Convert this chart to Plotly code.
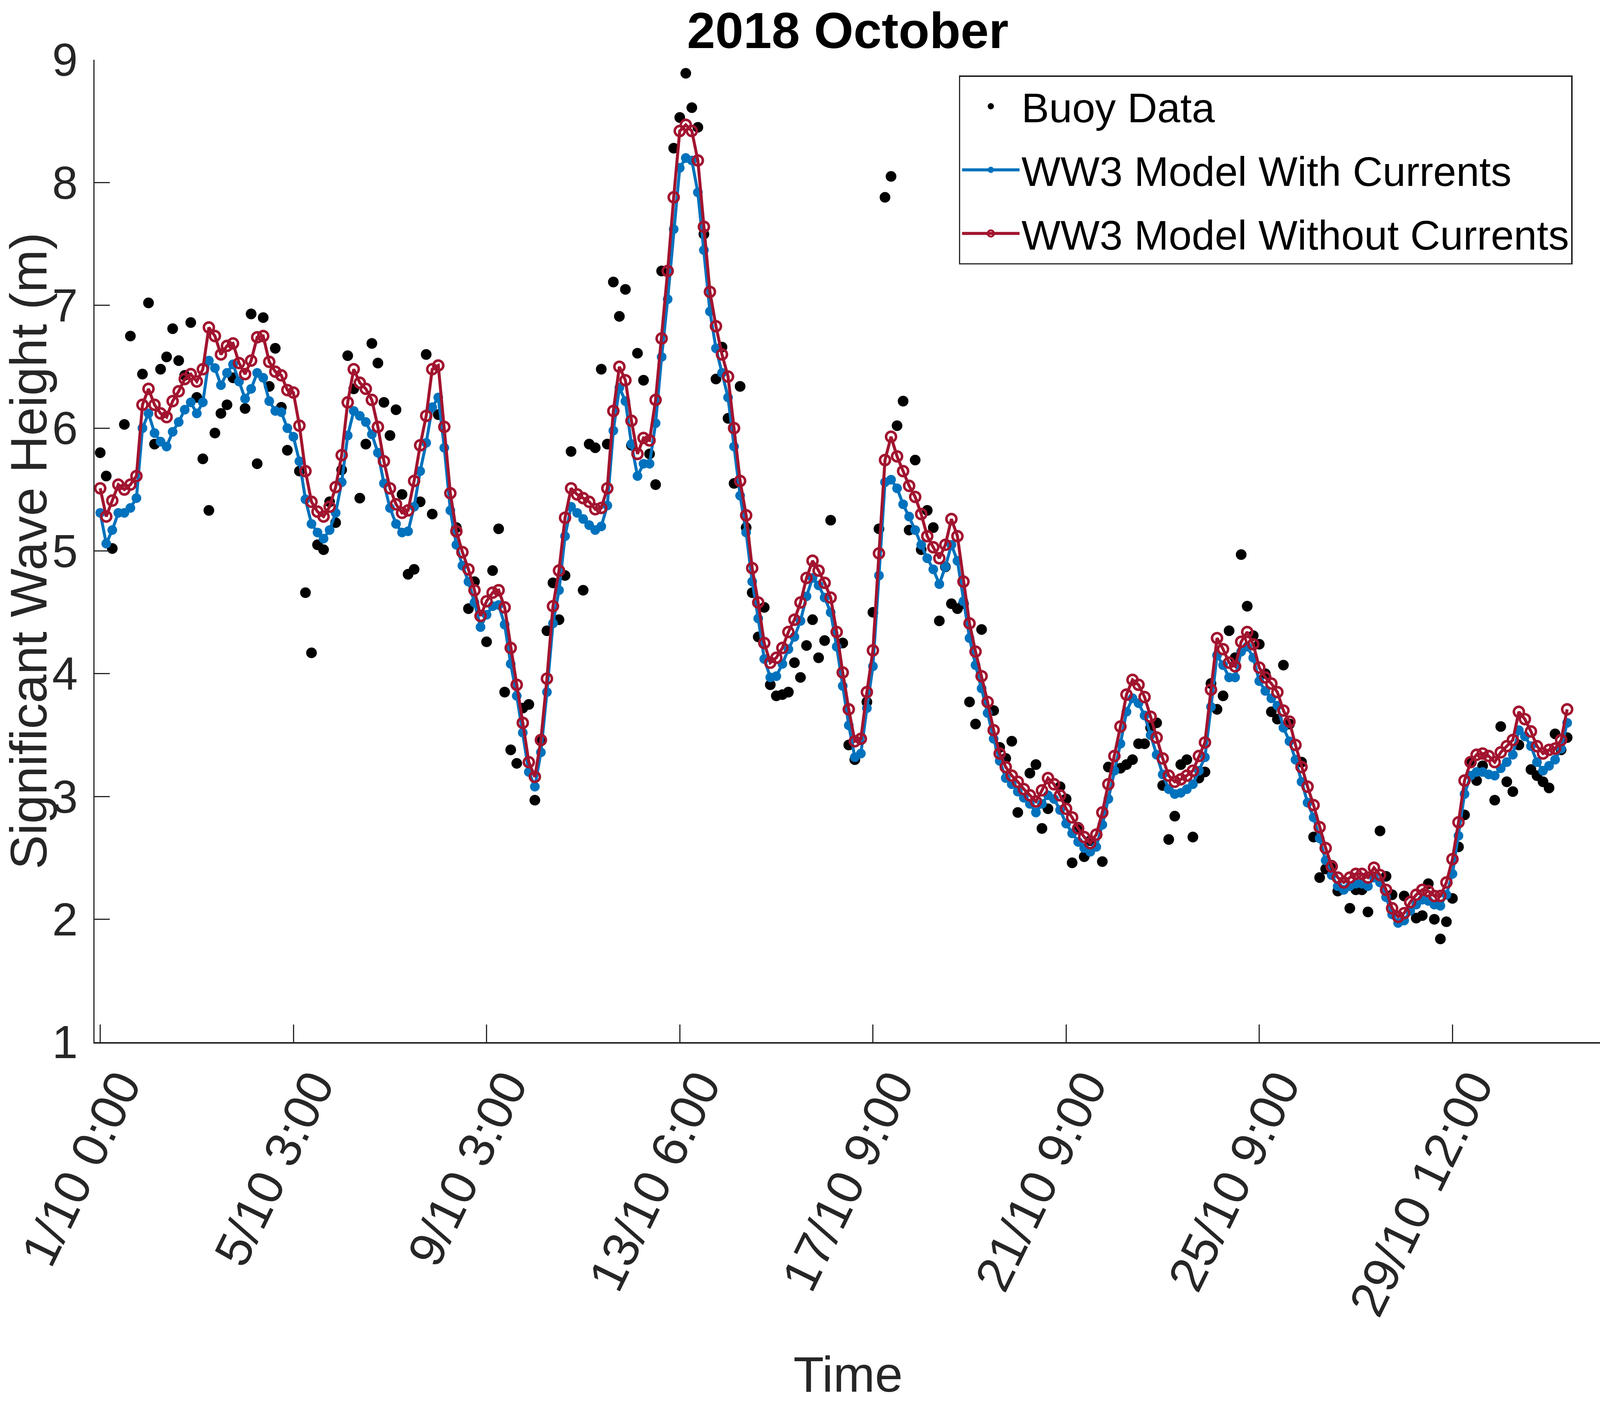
"""Significant wave height, October 2018: buoy vs WW3 model with/without currents"""
import plotly.graph_objects as go

# model output every 3 h, indexed by sample number
hs_with_currents = [
    5.31, 5.06, 5.17, 5.31, 5.31, 5.35, 5.43, 6.00, 6.12, 5.96, 5.89, 5.85, 5.97, 6.05, 6.15, 6.21,
    6.12, 6.21, 6.55, 6.49, 6.35, 6.45, 6.52, 6.38, 6.24, 6.32, 6.45, 6.41, 6.22, 6.14, 6.13, 6.00,
    5.93, 5.73, 5.42, 5.22, 5.15, 5.10, 5.17, 5.31, 5.56, 5.94, 6.14, 6.10, 6.05, 5.95, 5.80, 5.55,
    5.35, 5.22, 5.15, 5.16, 5.36, 5.65, 5.88, 6.17, 6.25, 5.84, 5.33, 5.05, 4.88, 4.75, 4.58, 4.38,
    4.48, 4.55, 4.56, 4.40, 4.08, 3.82, 3.52, 3.20, 3.08, 3.36, 3.85, 4.41, 4.68, 5.12, 5.36, 5.31,
    5.26, 5.21, 5.17, 5.20, 5.37, 5.98, 6.33, 6.22, 5.87, 5.61, 5.71, 5.71, 6.04, 6.58, 7.05, 7.62,
    8.12, 8.20, 8.18, 7.92, 7.45, 6.95, 6.65, 6.45, 6.25, 5.85, 5.45, 5.15, 4.75, 4.45, 4.12, 3.97,
    3.98, 4.08, 4.20, 4.30, 4.43, 4.63, 4.78, 4.72, 4.62, 4.50, 4.22, 3.90, 3.58, 3.32, 3.35, 3.72,
    4.06, 4.80, 5.56, 5.58, 5.51, 5.38, 5.28, 5.17, 5.05, 4.94, 4.85, 4.73, 4.87, 5.05, 4.92, 4.59,
    4.29, 4.07, 3.88, 3.68, 3.47, 3.29, 3.15, 3.10, 3.04, 2.99, 2.94, 2.87, 2.94, 3.01, 2.98, 2.89,
    2.78, 2.70, 2.63, 2.58, 2.55, 2.59, 2.77, 2.98, 3.21, 3.43, 3.69, 3.80, 3.76, 3.66, 3.50, 3.34,
    3.18, 3.06, 3.02, 3.03, 3.06, 3.10, 3.21, 3.32, 3.73, 4.15, 4.07, 3.97, 3.97, 4.18, 4.22, 4.13,
    3.94, 3.86, 3.80, 3.74, 3.56, 3.45, 3.30, 3.12, 2.95, 2.83, 2.66, 2.48, 2.36, 2.27, 2.24, 2.27,
    2.29, 2.29, 2.27, 2.34, 2.30, 2.18, 2.04, 1.97, 1.99, 2.07, 2.12, 2.16, 2.15, 2.12, 2.11, 2.20,
    2.37, 2.68, 3.02, 3.17, 3.20, 3.20, 3.18, 3.17, 3.23, 3.28, 3.34, 3.54, 3.49, 3.41, 3.28, 3.21,
    3.25, 3.30, 3.39, 3.60,
]

hs_without_currents = [
    5.51, 5.28, 5.41, 5.54, 5.50, 5.54, 5.61, 6.19, 6.32, 6.19, 6.12, 6.09, 6.22, 6.30, 6.40, 6.44,
    6.38, 6.48, 6.82, 6.75, 6.60, 6.67, 6.69, 6.53, 6.44, 6.55, 6.74, 6.75, 6.54, 6.46, 6.43, 6.31,
    6.29, 6.02, 5.65, 5.40, 5.32, 5.28, 5.36, 5.52, 5.78, 6.21, 6.48, 6.37, 6.32, 6.23, 6.01, 5.73,
    5.51, 5.38, 5.31, 5.33, 5.57, 5.86, 6.10, 6.48, 6.51, 6.01, 5.47, 5.16, 4.99, 4.85, 4.68, 4.47,
    4.59, 4.66, 4.68, 4.54, 4.21, 3.91, 3.60, 3.28, 3.16, 3.46, 3.96, 4.55, 4.84, 5.27, 5.51, 5.46,
    5.43, 5.40, 5.34, 5.35, 5.51, 6.14, 6.50, 6.39, 6.06, 5.79, 5.92, 5.90, 6.23, 6.73, 7.28, 7.88,
    8.42, 8.47, 8.42, 8.18, 7.64, 7.11, 6.83, 6.60, 6.42, 6.00, 5.57, 5.29, 4.86, 4.58, 4.25, 4.09,
    4.13, 4.21, 4.34, 4.44, 4.58, 4.78, 4.92, 4.84, 4.74, 4.62, 4.34, 4.01, 3.71, 3.45, 3.47, 3.85,
    4.19, 4.98, 5.74, 5.93, 5.77, 5.65, 5.53, 5.44, 5.30, 5.12, 5.03, 4.94, 5.05, 5.26, 5.12, 4.75,
    4.41, 4.18, 3.98, 3.77, 3.54, 3.35, 3.24, 3.17, 3.12, 3.06, 3.01, 2.96, 3.05, 3.15, 3.10, 3.01,
    2.90, 2.83, 2.74, 2.67, 2.62, 2.69, 2.87, 3.10, 3.33, 3.57, 3.83, 3.95, 3.91, 3.81, 3.65, 3.48,
    3.31, 3.17, 3.12, 3.14, 3.17, 3.21, 3.33, 3.44, 3.87, 4.29, 4.20, 4.09, 4.06, 4.26, 4.34, 4.24,
    4.05, 3.97, 3.92, 3.85, 3.70, 3.61, 3.42, 3.24, 3.08, 2.93, 2.75, 2.58, 2.43, 2.34, 2.30, 2.34,
    2.37, 2.37, 2.34, 2.42, 2.36, 2.24, 2.09, 2.02, 2.05, 2.14, 2.20, 2.24, 2.23, 2.19, 2.19, 2.30,
    2.49, 2.79, 3.13, 3.28, 3.34, 3.35, 3.33, 3.28, 3.36, 3.41, 3.46, 3.69, 3.63, 3.53, 3.41, 3.35,
    3.38, 3.39, 3.46, 3.71,
]

# buoy observations on the same sample index (None = no record)
hs_buoy = [
    5.80, 5.61, 5.02, None, 6.03, 6.75, None, 6.44, 7.02, 5.87, 6.48, 6.58, 6.81, 6.55, 6.43, 6.86,
    6.25, 5.75, 5.33, 5.96, 6.12, 6.19, 6.41, None, 6.16, 6.93, 5.71, 6.90, 6.34, 6.65, 6.17, 5.82,
    None, 5.65, 4.66, 4.17, 5.05, 5.01, 5.40, 5.23, 5.66, 6.59, 6.32, 5.43, 5.87, 6.69, 6.53, 6.21,
    5.94, 6.15, 5.46, 4.81, 4.85, 5.40, 6.60, 5.30, 6.11, None, None, 5.19, None, 4.53, 4.75, None,
    4.26, 4.84, 5.18, 3.85, 3.38, 3.27, 3.72, 3.75, 2.97, 3.46, 4.35, 4.74, 4.44, 4.80, 5.81, None,
    4.68, 5.87, 5.84, 6.48, 5.87, 7.19, 6.91, 7.13, 5.86, 6.61, 6.39, 5.79, 5.54, 7.28, None, 8.28,
    8.53, 8.89, 8.61, 8.45, 7.58, None, 6.40, 6.66, 6.08, 5.55, 6.34, 5.19, 4.66, 4.30, 4.54, 3.91,
    3.82, 3.83, 3.85, 4.09, 3.97, 4.23, 4.44, 4.13, 4.27, 5.25, None, 4.25, 3.42, 3.30, None, 3.77,
    4.50, 5.18, 7.88, 8.05, 6.02, 6.22, 5.17, 5.74, 5.01, 5.33, 5.19, 4.43, 4.87, 4.57, 4.53, 4.57,
    3.77, 3.59, 4.36, None, 3.70, 3.40, 3.31, 3.45, 2.87, None, 3.19, 3.26, 2.74, 2.90, None, 3.08,
    2.98, 2.46, 2.75, 2.51, 2.64, None, 2.47, 3.24, None, 3.23, 3.26, 3.30, 3.43, 3.43, 3.56, 3.60,
    3.09, 2.65, 2.84, 3.26, 3.30, 2.67, 3.15, 3.20, 3.92, 3.71, 3.82, 4.35, 4.13, 4.97, 4.55, 4.31,
    4.24, 4.00, 3.69, 3.63, 4.07, 3.59, None, 3.28, None, 2.67, 2.34, 2.41, 2.44, 2.23, None, 2.09,
    2.24, 2.24, 2.06, None, 2.72, 2.35, 2.20, None, 2.19, None, 2.01, 2.03, 2.29, 2.00, 1.84, 1.98,
    2.17, 2.59, 2.85, 3.28, 3.13, 3.25, None, 2.97, 3.57, 3.12, 3.04, 3.42, None, 3.22, 3.17, 3.12,
    3.07, 3.51, 3.38, 3.48,
]

tick_index = [0, 32, 64, 96, 128, 160, 192, 224]
tick_labels = ["1/10 0:00", "5/10 3:00", "9/10 3:00", "13/10 6:00",
               "17/10 9:00", "21/10 9:00", "25/10 9:00", "29/10 12:00"]

FONT = "Liberation Sans, Arial, Helvetica, sans-serif"
AXIS_COLOR = "#262626"
BLUE = "#0072BD"
RED = "#A2142F"

# the shot page is ~4108 css px wide and ~3592 tall, so lay out in css px
PAGE_W, PAGE_H = 4108, 3590
SX = PAGE_W / 4806
SY = PAGE_H / 3592


def ux(v):
    """horizontal size (and font size) in the 4806x3592 picture -> css px"""
    return v * SX


def uy(v):
    """vertical size in the 4806x3592 picture -> css px"""
    return v * SY


samples = list(range(len(hs_without_currents)))

fig = go.Figure()
fig.add_trace(go.Scatter(
    x=samples, y=hs_buoy, mode="markers", name="Buoy Data", legendgroup="buoy",
    marker=dict(color="black", size=ux(32)),
))
fig.add_trace(go.Scatter(
    x=samples, y=hs_with_currents, mode="lines+markers", name="WW3 Model With Currents",
    legendgroup="with",
    line=dict(color=BLUE, width=ux(9)),
    marker=dict(color=BLUE, size=ux(29)),
))
fig.add_trace(go.Scatter(
    x=samples, y=hs_without_currents, mode="lines+markers", name="WW3 Model Without Currents",
    legendgroup="without",
    line=dict(color=RED, width=ux(9)),
    marker=dict(symbol="circle-open", color=RED, size=ux(30),
                line=dict(color=RED, width=ux(7.5))),
))

legend_font = ux(124)
fig.update_layout(
    width=PAGE_W, height=PAGE_H,
    margin=dict(l=ux(283), r=ux(9), t=uy(153), b=uy(923)),
    paper_bgcolor="white", plot_bgcolor="white",
    font=dict(family=FONT, size=ux(136), color=AXIS_COLOR),
    title=dict(text="<b>2018 October</b>", x=0.5283, xanchor="center",
               y=0.9785, yref="container", yanchor="middle",
               font=dict(family=FONT, size=ux(152), color="black")),
    legend=dict(
        x=0.5735, y=0.984, xanchor="left", yanchor="top",
        bgcolor="white", bordercolor=AXIS_COLOR, borderwidth=ux(4),
        font=dict(family=FONT, size=legend_font, color="black"),
        itemwidth=ux(172), traceorder="grouped",
        tracegroupgap=round(uy(160) - 1.3 * legend_font),
    ),
    showlegend=True,
)

fig.update_xaxes(
    range=[-0.94, 248.7], automargin=False,
    tickmode="array", tickvals=tick_index, ticktext=tick_labels,
    tickangle=-64, ticks="inside", ticklen=uy(45), tickwidth=ux(3), tickcolor=AXIS_COLOR,
    showline=True, linecolor=AXIS_COLOR, linewidth=uy(4), mirror=False,
    showgrid=False, zeroline=False,
    tickfont=dict(family=FONT, size=ux(136) * 1.1, color=AXIS_COLOR),
    ticklabelstandoff=-18, ticklabelshift=round(ux(58)), ticklabeloverflow="allow",
    title=dict(text="Time", standoff=115,
               font=dict(family=FONT, size=ux(150), color=AXIS_COLOR)),
)
fig.update_yaxes(
    range=[1, 9], dtick=1, automargin=False,
    ticks="inside", ticklen=ux(45), tickwidth=uy(3), tickcolor=AXIS_COLOR,
    showline=True, linecolor=AXIS_COLOR, linewidth=ux(4), mirror=False,
    showgrid=False, zeroline=False,
    tickfont=dict(family=FONT, size=ux(138), color=AXIS_COLOR),
    ticklabelstandoff=round(ux(19)),
    title=dict(text="Significant Wave Height (m)", standoff=0,
               font=dict(family=FONT, size=132, color=AXIS_COLOR)),
)

# drop the default page margin so the figure sits flush in the shot
fig.write_html("out.html", config={"displayModeBar": False},
               post_script="document.body.style.margin = '0';")
